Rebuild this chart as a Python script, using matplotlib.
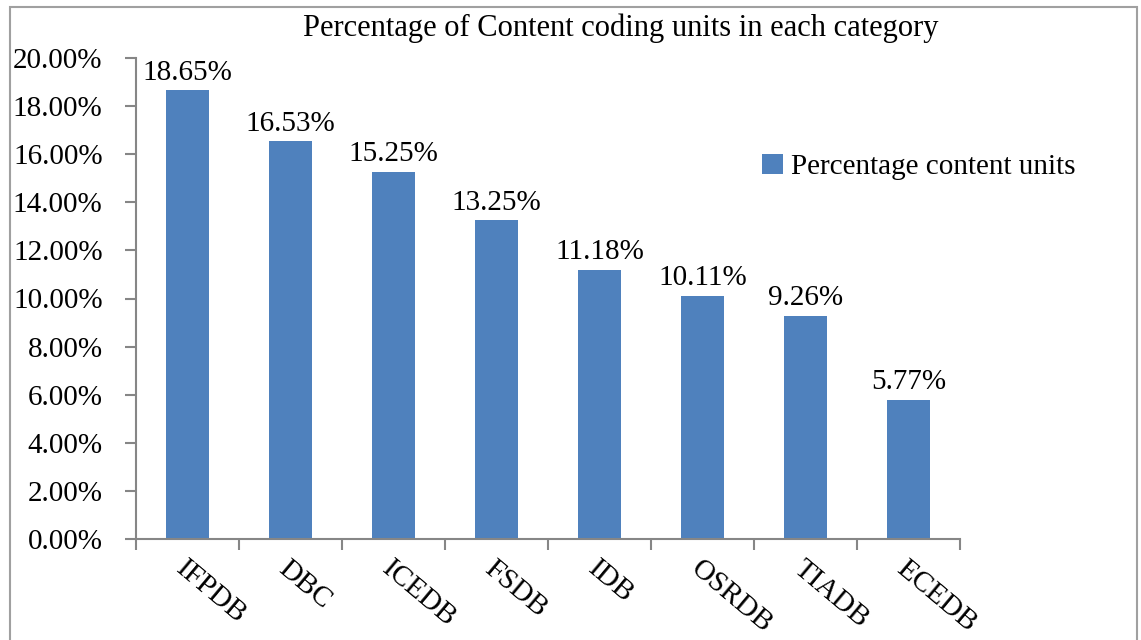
import matplotlib.pyplot as plt
from matplotlib.patches import Rectangle
from matplotlib.ticker import FuncFormatter

categories = ['IFPDB', 'DBC', 'ICEDB', 'FSDB', 'IDB', 'OSRDB', 'TIADB', 'ECEDB']
percentages = [18.65, 16.53, 15.25, 13.25, 11.18, 10.11, 9.26, 5.77]

plt.rcParams['font.family'] = ['Liberation Serif', 'DejaVu Serif']
bar_color = '#4F81BD'
axis_gray = '#868686'
fs = 21

fig = plt.figure(figsize=(11.41, 6.4), dpi=100)
ax = fig.add_axes([136 / 1141, 1 - 539 / 640, 824 / 1141, 481 / 640])

x = range(len(categories))
ax.bar(x, percentages, width=0.42, color=bar_color, label='Percentage content units')

for xi, v in zip(x, percentages):
    ax.text(xi, v + 0.2, f'{v:.2f}%', ha='center', va='bottom', fontsize=fs)

ax.set_xlim(-0.5, len(categories) - 0.5)
ax.set_ylim(0, 20)
ax.set_yticks(range(0, 21, 2))
ax.yaxis.set_major_formatter(FuncFormatter(lambda v, p: f'{v:.2f}%'))

ax.set_xticks(list(x))
ax.set_xticklabels(categories, rotation=-40, ha='left', va='top',
                   rotation_mode='anchor', fontsize=fs)
ax.set_xticks([i - 0.5 for i in range(len(categories) + 1)], minor=True)
ax.tick_params(axis='x', which='major', length=0, pad=12)
ax.tick_params(axis='x', which='minor', length=8, width=1.5, color=axis_gray)
ax.tick_params(axis='y', length=8, width=1.5, color=axis_gray, labelsize=fs, pad=16)

for s in ['top', 'right']:
    ax.spines[s].set_visible(False)
for s in ['left', 'bottom']:
    ax.spines[s].set_color(axis_gray)
    ax.spines[s].set_linewidth(1.5)

fig.text(621 / 1141, 1 - 28 / 640, 'Percentage of Content coding units in each category',
         ha='center', va='center', fontsize=22)

ax.legend(loc='center left', bbox_to_anchor=(736 / 1141, 1 - 167 / 640),
          bbox_transform=fig.transFigure, frameon=False, fontsize=fs,
          handlelength=0.7, handleheight=0.7, handletextpad=0.3)

fig.patches.append(Rectangle((10 / 1141, -0.02), 1127 / 1141, 1.02 - 7 / 640,
                             transform=fig.transFigure, fill=False,
                             edgecolor='#A0A0A0', linewidth=1.5))

fig.savefig('out.png', dpi=100)
